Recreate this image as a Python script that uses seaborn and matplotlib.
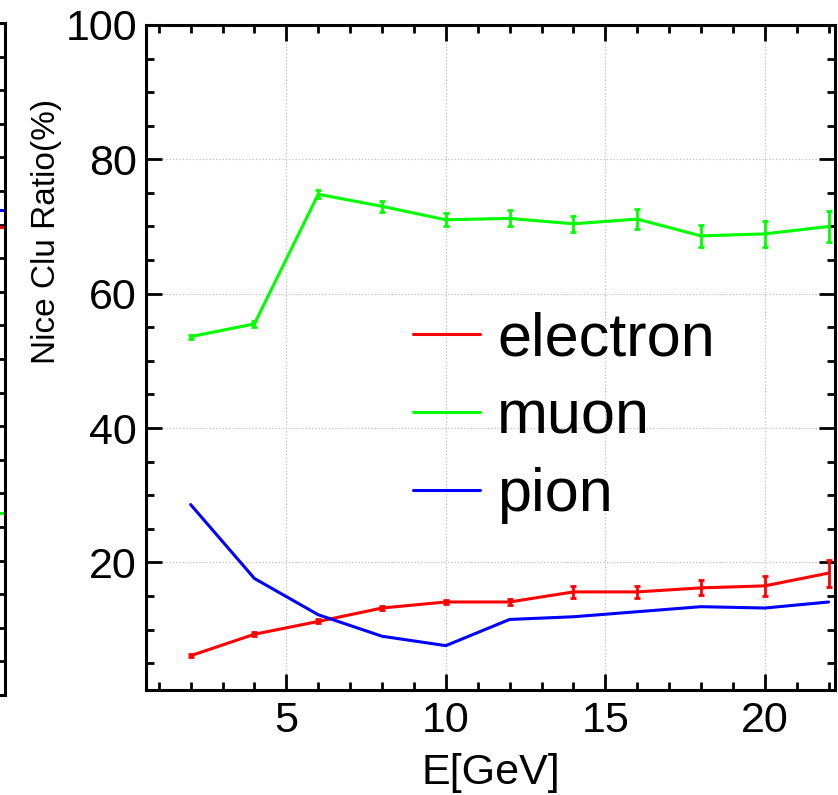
import numpy as np
import pandas as pd
import seaborn as sns
import matplotlib.pyplot as plt
from matplotlib.ticker import MultipleLocator

# values
energy = [2, 4, 6, 8, 10, 12, 14, 16, 18, 20, 22]
electron = [6.1, 9.3, 11.2, 13.2, 14.1, 14.1, 15.6, 15.6, 16.2, 16.5, 18.4]
electron_err = [0.2, 0.3, 0.3, 0.3, 0.3, 0.5, 0.9, 0.9, 1.1, 1.5, 2.0]
muon = [53.6, 55.5, 74.8, 73.0, 71.0, 71.2, 70.4, 71.1, 68.6, 68.9, 70.0]
muon_err = [0.3, 0.5, 0.6, 0.8, 1.0, 1.2, 1.2, 1.5, 1.6, 1.9, 2.3]
pion = [28.6, 17.6, 12.2, 9.0, 7.6, 11.5, 11.9, 12.65, 13.4, 13.2, 14.1]

particles = ["electron", "muon", "pion"]
colors = {"electron": "#ff0000", "muon": "#00ff00", "pion": "#0000ff"}

# neighbouring panel, only its right edge shows
side_energy = [20, 22]
side_electron = [69.6, 69.6]
side_muon = [27.1, 27.1]
side_pion = [72.1, 72.1]

df = pd.DataFrame({
    "E": energy * 3,
    "ratio": electron + muon + pion,
    "particle": [p for p in particles for _ in energy],
})
side_df = pd.DataFrame({
    "E": side_energy * 3,
    "ratio": side_electron + side_muon + side_pion,
    "particle": [p for p in particles for _ in side_energy],
})

sns.set_theme(style="ticks")
plt.rcParams['font.family'] = ['Liberation Sans', 'DejaVu Sans']
for key in ["text.color", "axes.labelcolor", "xtick.color", "ytick.color"]:
    plt.rcParams[key] = "black"

fig = plt.figure(figsize=(8.38, 7.95), dpi=100)

# left (cut off) panel
ax0 = fig.add_axes([0.006 - 0.45, 0.1258, 0.45, 0.8453])
sns.lineplot(data=side_df, x="E", y="ratio", hue="particle", palette=colors,
             linewidth=2.2, legend=False, ax=ax0)
ax0.set_xlim(0, 22)
ax0.set_ylim(0, 100)
ax0.yaxis.set_major_locator(MultipleLocator(5))
ax0.tick_params(axis="y", which="both", direction="in", left=False,
                right=True, length=7, width=2, labelleft=False)
ax0.set_xticks([])
ax0.set_xlabel("")
ax0.set_ylabel("")
for sp in ax0.spines.values():
    sp.set_visible(True)
    sp.set_linewidth(2.2)
    sp.set_color("black")

# main panel
ax = fig.add_axes([0.1742, 0.1321, 0.8222, 0.8365])
sns.lineplot(data=df, x="E", y="ratio", hue="particle", palette=colors,
             linewidth=2.2, ax=ax)
for name, vals, errs in [("electron", electron, electron_err),
                         ("muon", muon, muon_err)]:
    ax.errorbar(energy, vals, yerr=errs, fmt="none", ecolor=colors[name],
                elinewidth=2, capsize=2, capthick=2)

ax.set_xlim(0.6, 22.2)
ax.set_ylim(1, 100)
ax.xaxis.set_major_locator(MultipleLocator(5))
ax.xaxis.set_minor_locator(MultipleLocator(1))
ax.yaxis.set_minor_locator(MultipleLocator(5))
ax.set_yticks([20, 40, 60, 80, 100])
ax.tick_params(which="both", direction="in", top=True, right=True,
               width=2, colors="black", labelsize=31)
ax.tick_params(which="major", length=11.5)
ax.tick_params(which="minor", length=6)
ax.tick_params(axis="x", pad=8)
ax.tick_params(axis="y", pad=6.5)
ax.grid(True, which="major", linestyle=":", color="#c0c0c0", linewidth=0.9)
for sp in ax.spines.values():
    sp.set_linewidth(2.2)
    sp.set_color("black")

ax.set_xlabel("E[GeV]", fontsize=31)
ax.xaxis.label.set_va("center")
ax.xaxis.set_label_coords(0.5007, -0.125)
ax.set_ylabel("Nice Clu Ratio(%)", fontsize=24)
ax.yaxis.label.set_va("center")
ax.yaxis.set_label_coords(-0.1437, 0.689)

handles, labels = ax.get_legend_handles_labels()
ax.legend(handles, labels, loc="upper left", bbox_to_anchor=(0.3875, 0.569),
          frameon=False, fontsize=44, handlelength=1.1, handletextpad=0.28,
          labelspacing=0.34, borderpad=0, borderaxespad=0)

fig.savefig("out.png", dpi=100)
